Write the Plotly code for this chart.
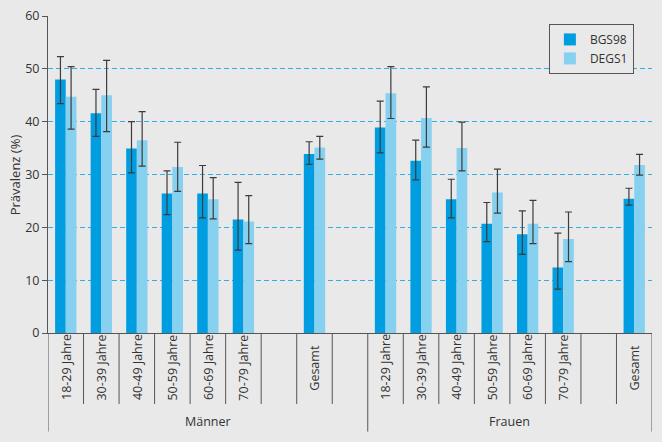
import plotly.graph_objects as go

# ---- data ----
age_labels = ["18-29 Jahre", "30-39 Jahre", "40-49 Jahre", "50-59 Jahre",
              "60-69 Jahre", "70-79 Jahre"]
total_label = "Gesamt"
groups = ["Männer", "Frauen"]
series_names = ["BGS98", "DEGS1"]

# Männer: 6 age groups + Gesamt
bgs98_m = [48.0, 41.6, 34.9, 26.4, 26.4, 21.5, 33.9]
bgs98_m_lo = [43.4, 37.2, 30.3, 22.4, 21.8, 15.7, 31.9]
bgs98_m_hi = [52.3, 46.1, 40.0, 30.7, 31.7, 28.5, 36.2]
degs1_m = [44.7, 45.0, 36.5, 31.4, 25.3, 21.1, 35.1]
degs1_m_lo = [38.6, 38.1, 31.6, 26.8, 21.6, 16.9, 32.9]
degs1_m_hi = [50.4, 51.6, 41.9, 36.1, 29.4, 26.0, 37.2]

# Frauen: 6 age groups + Gesamt
bgs98_f = [38.9, 32.6, 25.3, 20.7, 18.7, 12.4, 25.4]
bgs98_f_lo = [34.1, 29.0, 21.8, 17.3, 14.9, 8.3, 24.2]
bgs98_f_hi = [43.9, 36.5, 29.1, 24.7, 23.1, 18.9, 27.4]
degs1_f = [45.4, 40.7, 35.0, 26.6, 20.7, 17.8, 31.8]
degs1_f_lo = [40.6, 35.2, 30.7, 22.7, 16.9, 13.5, 29.9]
degs1_f_hi = [50.4, 46.6, 39.9, 31.0, 25.1, 22.9, 33.8]

y_ticks = [0, 10, 20, 30, 40, 50, 60]
y_title = "Prävalenz (%)"

# ---- slot layout: ages, blank, Gesamt, blank | ages, blank, Gesamt ----
slots_m = [0, 1, 2, 3, 4, 5, 7]
slots_f = [9, 10, 11, 12, 13, 14, 16]
group_bounds = [(-0.5, 8.5), (8.5, 16.5)]
n_slots = 17

x_all = slots_m + slots_f
labels_all = (age_labels + [total_label]) * 2

dark = "#009EE0"
light = "#86D0F0"
err_col = "#3c3c3c"
bg = "#E9E9E9"
axis_col = "#555555"
font = "Open Sans, Noto Sans, sans-serif"

def make_trace(name, vals, lo, hi, color):
    return go.Bar(
        name=name, x=x_all, y=vals, marker=dict(color=color, line=dict(width=0)),
        error_y=dict(type="data", symmetric=False,
                     array=[h - v for v, h in zip(vals, hi)],
                     arrayminus=[v - l for v, l in zip(vals, lo)],
                     color=err_col, thickness=1.2, width=3.5),
    )

fig = go.Figure()
fig.add_trace(make_trace(series_names[0], bgs98_m + bgs98_f,
                         bgs98_m_lo + bgs98_f_lo, bgs98_m_hi + bgs98_f_hi, dark))
fig.add_trace(make_trace(series_names[1], degs1_m + degs1_f,
                         degs1_m_lo + degs1_f_lo, degs1_m_hi + degs1_f_hi, light))

# dividers under the x axis
shapes = []
for k in range(n_slots + 1):
    xv = k - 0.5
    big = any(abs(xv - b) < 1e-9 for gb in group_bounds for b in gb)
    shapes.append(dict(type="line", xref="x", yref="paper", x0=xv, x1=xv,
                       y0=0, y1=-0.311 if big else -0.224,
                       line=dict(color=axis_col, width=1)))

annotations = []
for xv, lab in zip(x_all, labels_all):
    annotations.append(dict(x=xv, y=-0.108, xref="x", yref="paper", text=lab,
                            textangle=-90, showarrow=False,
                            xanchor="center", yanchor="middle",
                            font=dict(size=12.5, color="#333", family=font)))
for g, (a, b) in zip(groups, group_bounds):
    annotations.append(dict(x=(a + b) / 2, y=-0.278, xref="x", yref="paper",
                            text=g, showarrow=False,
                            xanchor="center", yanchor="middle",
                            font=dict(size=12.5, color="#333", family=font)))
annotations.append(dict(x=-0.055, y=0.5, xref="paper", yref="paper",
                        text=y_title, textangle=-90, showarrow=False,
                        xanchor="center", yanchor="middle",
                        font=dict(size=13, color="#333", family=font)))

fig.update_layout(
    width=662, height=442,
    margin=dict(l=48, r=10, t=16, b=109, autoexpand=False),
    paper_bgcolor=bg, plot_bgcolor=bg,
    barmode="group", bargap=0.4, bargroupgap=0,
    font=dict(family=font, color="#333", size=12),
    showlegend=True,
    legend=dict(x=0.97, xanchor="right", y=0.975, yanchor="top",
                bgcolor=bg, bordercolor=axis_col, borderwidth=1,
                font=dict(size=12, color="#333", family=font),
                itemwidth=30, tracegroupgap=2),
    shapes=shapes, annotations=annotations,
    xaxis=dict(range=[-0.5, n_slots - 0.5], showticklabels=False, ticks="",
               showgrid=False, zeroline=False, showline=True, automargin=False,
               linecolor=axis_col, linewidth=1),
    yaxis=dict(range=[0, 60], tickvals=y_ticks, showgrid=True, automargin=False,
               gridcolor="#2FAEE8", griddash="5px,3px", gridwidth=1,
               zeroline=False, showline=True, linecolor=axis_col, linewidth=1,
               ticks="outside", ticklen=5, tickcolor=axis_col,
               tickfont=dict(size=12.5, color="#333", family=font)),
)

fig.write_html("out.html", config={"displayModeBar": False},
               post_script="document.body.style.margin='0';document.body.style.background='%s';" % bg)
